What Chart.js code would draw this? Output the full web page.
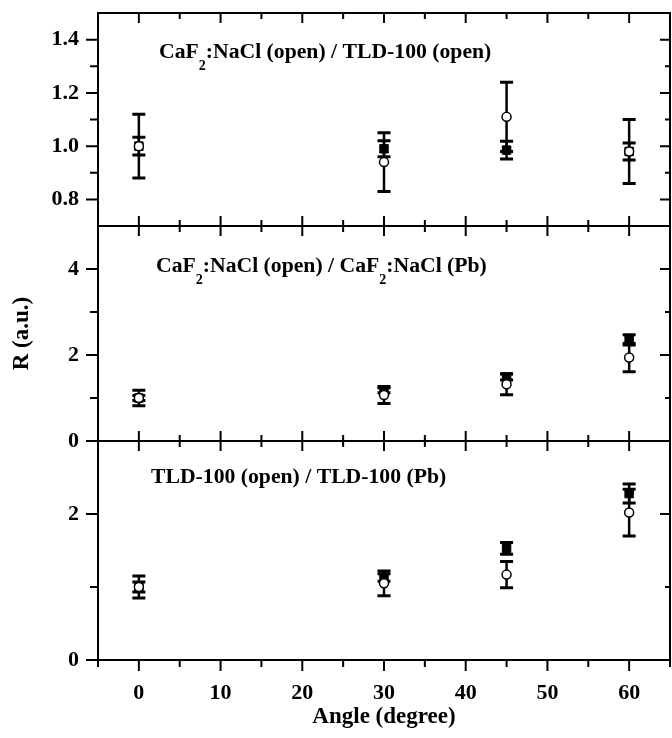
<!DOCTYPE html>
<html>
<head>
<meta charset="utf-8">
<script src="https://cdn.jsdelivr.net/npm/chart.js@4.4.0/dist/chart.umd.min.js"></script>
<style>
  html, body { margin: 0; padding: 0; background: #fff; overflow: hidden; }
  #contenedor { width: 672px; height: 738px; }
</style>
</head>
<body>
<div id="contenedor"><canvas id="grafico-r" width="672" height="738"></canvas></div>
<script>
// Ángulos medidos (grados)
const angulos = [0, 30, 45, 60];

// Panel 1: CaF2:NaCl (open) / TLD-100 (open)
const p1Cuadrado = [1.00, 0.99, 0.985, 0.98];
const p1CuadradoErr = [0.033, 0.03, 0.033, 0.032];
const p1Circulo = [1.00, 0.94, 1.11, 0.98];
const p1CirculoErr = [0.12, 0.11, 0.13, 0.12];

// Panel 2: CaF2:NaCl (open) / CaF2:NaCl (Pb)
const p2Cuadrado = [1.00, 1.18, 1.49, 2.35];
const p2CuadradoErr = [0.06, 0.06, 0.07, 0.12];
const p2Circulo = [1.00, 1.07, 1.32, 1.94];
const p2CirculoErr = [0.18, 0.20, 0.245, 0.33];

// Panel 3: TLD-100 (open) / TLD-100 (Pb)
const p3Cuadrado = [1.00, 1.13, 1.53, 2.28];
const p3CuadradoErr = [0.07, 0.05, 0.08, 0.13];
const p3Circulo = [1.00, 1.05, 1.17, 2.02];
const p3CirculoErr = [0.15, 0.17, 0.18, 0.32];

// Títulos (los índices impares van como subíndice)
const titulosPaneles = [
  ['CaF', '2', ':NaCl (open) / TLD-100 (open)'],
  ['CaF', '2', ':NaCl (open) / CaF', '2', ':NaCl (Pb)'],
  ['TLD-100 (open) / TLD-100 (Pb)']
];

// Marcas y rótulos de ejes
const marcasX = [-5, 0, 5, 10, 15, 20, 25, 30, 35, 40, 45, 50, 55, 60, 65];
const rotulosX = [0, 10, 20, 30, 40, 50, 60];
const marcasY1 = [0.7, 0.8, 0.9, 1.0, 1.1, 1.2, 1.3, 1.4, 1.5];
const rotulosY1 = [0.8, 1.0, 1.2, 1.4];
const marcasY2 = [0, 1, 2, 3, 4, 5];
const rotulosY2 = [0, 2, 4];
const marcasY3 = [0, 1, 2, 3];
const rotulosY3 = [0, 2];

const FUENTE = "'Liberation Serif', 'Times New Roman', serif";
Chart.defaults.font.family = FUENTE;
Chart.defaults.color = '#000';

const puntos = vals => angulos.map((a, i) => ({ x: a, y: vals[i] }));

const serieCuadrado = (vals, errs, eje) => ({
  data: puntos(vals), errores: errs, yAxisID: eje, order: 2,
  pointStyle: 'rect', pointRadius: 6, pointBackgroundColor: '#000',
  pointBorderColor: '#000', pointBorderWidth: 1, showLine: false
});
const serieCirculo = (vals, errs, eje) => ({
  data: puntos(vals), errores: errs, yAxisID: eje, order: 1,
  pointStyle: 'circle', pointRadius: 4.5, pointBackgroundColor: '#fff',
  pointBorderColor: '#000', pointBorderWidth: 1.5, showLine: false
});

// Barras de error, debajo de los marcadores
const barrasError = {
  id: 'barrasError',
  beforeDatasetsDraw(chart) {
    const ctx = chart.ctx;
    const sx = chart.scales.x;
    ctx.save();
    ctx.strokeStyle = '#000';
    chart.data.datasets.forEach(ds => {
      const sy = chart.scales[ds.yAxisID];
      ds.data.forEach((p, j) => {
        const px = sx.getPixelForValue(p.x);
        const arriba = sy.getPixelForValue(p.y + ds.errores[j]);
        const abajo = sy.getPixelForValue(p.y - ds.errores[j]);
        ctx.lineWidth = 2.5;
        ctx.beginPath();
        ctx.moveTo(px, arriba); ctx.lineTo(px, abajo);
        ctx.stroke();
        ctx.lineWidth = 3;
        ctx.beginPath();
        ctx.moveTo(px - 6.5, arriba); ctx.lineTo(px + 6.5, arriba);
        ctx.moveTo(px - 6.5, abajo); ctx.lineTo(px + 6.5, abajo);
        ctx.stroke();
      });
    });
    ctx.restore();
  }
};

// Marco, divisiones, marcas internas y títulos de cada panel
const marcoPaneles = {
  id: 'marcoPaneles',
  afterDraw(chart) {
    const { ctx, chartArea: a, scales } = chart;
    const sx = scales.x;
    const paneles = [scales.y1, scales.y2, scales.y3];
    ctx.save();
    ctx.strokeStyle = '#000';
    ctx.lineWidth = 2;
    ctx.lineCap = 'butt';
    ctx.strokeRect(a.left, a.top, a.right - a.left, a.bottom - a.top);
    ctx.beginPath();
    paneles.forEach((s, k) => {
      if (k < 2) { ctx.moveTo(a.left, s.bottom); ctx.lineTo(a.right, s.bottom); }
      s.ticks.forEach(t => {
        const py = s.getPixelForValue(t.value);
        const borde = Math.abs(py - s.top) < 1 || Math.abs(py - s.bottom) < 1;
        const mayor = t.label !== '';
        if (borde && !mayor) return;
        ctx.moveTo(a.left - (mayor ? 12 : 8), py); ctx.lineTo(a.left, py);
        if (!borde) { ctx.moveTo(a.right, py); ctx.lineTo(a.right - (mayor ? 10 : 5), py); }
      });
      sx.ticks.forEach(t => {
        const px = sx.getPixelForValue(t.value);
        const mayor = Math.round(t.value) % 10 === 0;
        const largo = mayor ? 10 : 6;
        if (t.value > sx.min && t.value < sx.max) {
          ctx.moveTo(px, s.top); ctx.lineTo(px, s.top + largo);
          if (k < 2) { ctx.moveTo(px, s.bottom); ctx.lineTo(px, s.bottom - largo); }
        }
        if (k === 2) { ctx.moveTo(px, s.bottom); ctx.lineTo(px, s.bottom + (mayor ? 11 : 7)); }
      });
    });
    ctx.stroke();

    // Títulos
    const tituloX = [61, 58, 53];
    const tituloY = [45, 46, 42];
    ctx.fillStyle = '#000';
    ctx.textBaseline = 'alphabetic';
    ctx.textAlign = 'left';
    titulosPaneles.forEach((partes, k) => {
      let px = a.left + tituloX[k];
      const base = paneles[k].top + tituloY[k];
      partes.forEach((txt, n) => {
        const sub = n % 2 === 1;
        ctx.font = `bold ${sub ? 14 : 21.7}px ${FUENTE}`;
        ctx.fillText(txt, px, base + (sub ? 12 : 0));
        px += ctx.measureText(txt).width;
      });
    });
    ctx.restore();
  }
};

const etiqueta = (lista, dec) => v => {
  const r = Math.round(v * 10) / 10;
  return lista.some(l => Math.abs(l - r) < 1e-6) ? r.toFixed(dec) : '';
};

const ejeY = (min, max, marcas, lista, dec, peso, extra) => Object.assign({
  type: 'linear', position: 'left', stack: 'paneles', stackWeight: peso,
  min, max, offset: false,
  afterBuildTicks: s => { s.ticks = marcas.map(v => ({ value: v })); },
  afterFit: s => { s.width = 98; s.paddingTop = 0; s.paddingBottom = 0; },
  ticks: { autoSkip: false, padding: 7, font: { size: 22, weight: 'bold' }, callback: etiqueta(lista, dec) },
  grid: { drawOnChartArea: false, tickLength: 12, tickColor: 'rgba(0,0,0,0)' },
  border: { display: false }
}, extra || {});

new Chart(document.getElementById('grafico-r'), {
  type: 'scatter',
  data: {
    datasets: [
      serieCuadrado(p1Cuadrado, p1CuadradoErr, 'y1'),
      serieCirculo(p1Circulo, p1CirculoErr, 'y1'),
      serieCuadrado(p2Cuadrado, p2CuadradoErr, 'y2'),
      serieCirculo(p2Circulo, p2CirculoErr, 'y2'),
      serieCuadrado(p3Cuadrado, p3CuadradoErr, 'y3'),
      serieCirculo(p3Circulo, p3CirculoErr, 'y3')
    ]
  },
  options: {
    responsive: false,
    animation: false,
    devicePixelRatio: 1,
    layout: { autoPadding: false, padding: { top: 13, right: 2, left: 0, bottom: 0 } },
    plugins: { legend: { display: false }, tooltip: { enabled: false } },
    scales: {
      x: {
        type: 'linear', position: 'bottom', min: -5, max: 65,
        afterBuildTicks: s => { s.ticks = marcasX.map(v => ({ value: v })); },
        afterFit: s => { s.height = 78; s.paddingLeft = 0; s.paddingRight = 0; },
        ticks: {
          autoSkip: false, maxRotation: 0, padding: 0,
          font: { size: 22, weight: 'bold' },
          callback: v => rotulosX.includes(v) ? String(v) : ''
        },
        grid: { drawOnChartArea: false, tickLength: 20, tickColor: 'rgba(0,0,0,0)' },
        border: { display: false },
        title: { display: true, text: 'Angle (degree)', font: { size: 23, weight: 'bold' }, padding: { top: 0, bottom: 7 } }
      },
      y3: ejeY(0, 3, marcasY3, rotulosY3, 0, 219),
      y2: ejeY(0, 5, marcasY2, rotulosY2, 0, 215, {
        title: { display: true, text: 'R (a.u.)', font: { size: 23, weight: 'bold' }, padding: { top: 8, bottom: 0 } }
      }),
      y1: ejeY(0.7, 1.5, marcasY1, rotulosY1, 1, 213)
    }
  },
  plugins: [barrasError, marcoPaneles]
});
</script>
</body>
</html>
